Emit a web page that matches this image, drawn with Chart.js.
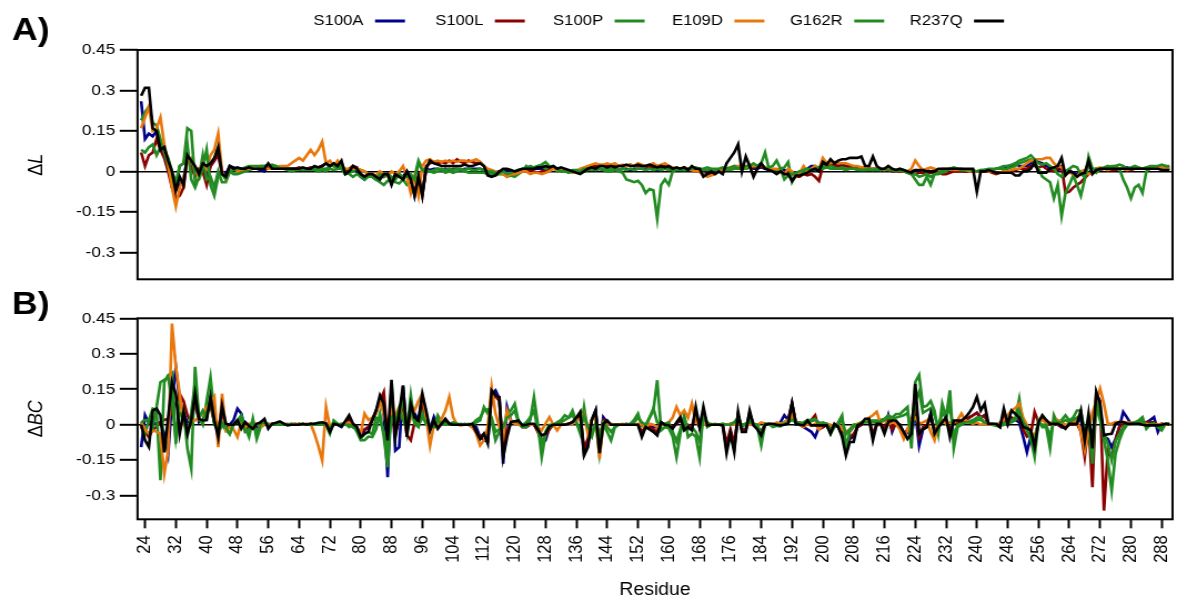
<!DOCTYPE html>
<html><head><meta charset="utf-8">
<script src="https://cdn.jsdelivr.net/npm/chart.js@4.4.0/dist/chart.umd.min.js"></script>
<style>
html,body{margin:0;padding:0;background:#fff;width:1177px;height:605px;overflow:hidden;}
.wrap{position:absolute;left:0;transform-origin:0 0;}
</style></head><body>
<div class="wrap" id="wa" style="top:0px"><canvas id="ca" width="1060" height="284"></canvas></div>
<div class="wrap" id="wb" style="top:284px"><canvas id="cb" width="1060" height="321"></canvas></div>
<script>
// ---------------- DATA ----------------
const firstResidue = 23, lastResidue = 290;
const residues = [];
for (let r = firstResidue; r <= lastResidue; r++) residues.push(r);

const seriesNames  = ['S100A','S100L','S100P','E109D','G162R','R237Q'];
const seriesColors = ['#00008b','#8b0000','#228b22','#e8780c','#228b22','#000000'];

const xTickValues = [24,32,40,48,56,64,72,80,88,96,104,112,120,128,136,144,152,160,168,176,184,192,200,208,216,224,232,240,248,256,264,272,280,288];
const yTickValues = [-0.3,-0.15,0,0.15,0.3,0.45];
const yTickLabels = ['-0.3','-0.15','0','0.15','0.3','0.45'];

// Panel A : Delta L   (residues 23..290)
const dL_S100A = [
.26,.12,.14,.13,.15,.1,.06,.02,-.02,-.07,
-.05,-.03,.05,.03,0,-.01,.02,-.02,.02,.04,
.07,0,-.01,.02,.015,.01,.01,.01,.01,.01,
.01,.005,0,.02,.01,.01,.01,.01,.01,.01,
.01,.01,.01,.01,.01,.01,.015,.02,.03,.02,
.025,.02,.03,-.01,-.005,.01,0,-.02,-.03,-.01,
-.02,-.03,-.01,-.02,-.01,-.04,-.01,-.02,-.02,0,
-.02,-.09,-.02,-.08,.01,.005,.01,.01,.005,.01,
.005,.01,.01,.005,.01,.01,.01,.01,.01,.005,
-.005,-.01,-.005,0,0,.005,0,0,.005,.005,
.005,.005,.01,.01,.01,.01,.01,.015,.01,.005,
.005,0,0,0,-.005,0,.005,.01,.005,.01,
.005,.01,.005,.01,.005,.01,.01,.005,.01,.01,
.01,.01,.015,.01,.005,.01,.01,.01,.005,.01,
.005,.01,.005,.01,.005,.005,-.01,-.005,-.005,0,
0,.005,.005,.01,.01,.01,.015,.01,.015,.01,
.01,.015,.01,.008,.005,.005,.01,.005,0,-.01,-.005,
-.01,0,.01,.02,.02,.01,.03,.02,.025,.02,
.02,.025,.02,.02,.015,.015,.01,.01,.01,.01,
.01,.01,.005,.005,.005,0,.005,0,0,0,
.005,0,0,.005,0,.005,0,.005,.005,.01,
.005,.005,.005,0,0,0,0,0,.005,.005,
.005,.01,.01,.01,.02,.02,.03,.02,.02,.02,
.03,.04,.035,.03,.02,.015,.01,.005,.01,0,
.005,-.005,-.01,0,0,-.005,.005,.01,.01,.01,
.01,.01,.01,.01,.01,.015,.01,.01,.01,.01,
.01,.015,.01,.015,.01,.01,.01];
const dL_S100L = [
.07,.02,.06,.07,.12,.08,.05,0,-.06,-.1,
-.09,-.06,.05,.02,-.02,.01,0,-.05,.02,.04,
.06,-.01,-.02,.01,.01,.01,.01,.005,.01,.01,
.01,.01,.01,.01,.015,.01,.01,.01,.01,.01,
.01,.015,.01,.01,.015,.01,.015,.02,.03,.02,
.03,.025,.03,0,.01,.02,.015,-.01,-.02,-.01,
-.01,-.02,-.02,-.01,-.01,-.03,-.02,-.01,-.03,-.01,
-.03,-.08,-.02,-.09,.02,.03,.035,.03,.035,.03,
.04,.03,.045,.035,.03,.04,.035,.03,.035,.02,
.005,0,-.005,0,-.01,-.015,-.005,0,0,.005,
0,.005,0,-.005,0,.005,.01,.015,.01,.005,
.005,0,0,0,.005,.01,.015,.02,.02,.02,
.02,.025,.02,.02,.02,.02,.02,.025,.02,.02,
.02,.02,.015,.015,.02,.015,.02,.015,.01,.01,
.01,.01,.01,.005,0,0,-.015,-.01,-.01,-.005,
0,.01,.01,.01,.015,.015,.02,.015,.02,.015,
.015,.02,.01,.008,.005,.005,.005,-.01,-.005,-.005,-.02,
-.02,-.01,-.015,-.01,-.02,-.035,.02,.02,.025,.025,
.02,.02,.02,.015,.015,.01,.01,.01,.01,.01,
.005,.005,.005,.005,0,0,0,0,-.005,-.01,
-.01,-.005,-.005,-.01,-.005,-.005,0,-.01,-.01,-.005,
0,0,0,0,0,0,0,0,0,0,
-.005,-.01,-.005,0,0,0,.005,.01,.01,.01,
.02,.02,.015,.02,.01,.005,0,.01,.02,-.08,
-.075,-.06,-.05,-.04,-.025,-.01,0,.005,.005,.01,
.01,.005,.005,.01,.01,.005,.005,.01,.01,.01,
.01,.01,.01,.01,.01,.01,.01];
const dL_S100P = [
.19,.22,.24,.18,.17,.12,.07,.02,-.04,-.06,
.02,.03,.1,-.03,-.06,-.02,.06,-.03,-.02,-.06,
0,-.04,-.04,0,-.01,-.01,-.005,0,.005,.01,
.015,.02,.02,.02,.025,.02,.015,.01,.005,0,
.005,.005,.01,.005,.01,.005,0,.005,0,.01,
.005,.01,.01,-.01,-.005,0,.01,.005,0,-.01,
-.02,-.03,-.04,-.05,-.035,-.03,-.04,-.045,-.03,-.05,
-.04,-.02,.04,.01,.005,0,-.005,0,.005,-.005,
0,-.005,0,.005,0,-.005,-.005,-.005,-.005,-.005,
-.01,-.01,-.015,-.01,-.01,-.02,-.015,-.02,-.01,0,
.02,.01,.015,.02,.025,.035,.02,.015,0,.005,
.005,0,.005,.005,.005,0,.005,.01,.005,.01,
.005,0,0,.005,0,-.005,-.03,-.035,-.04,-.035,
-.05,-.08,-.065,-.07,-.175,-.05,-.03,-.05,0,.005,
.005,.005,.005,.005,.005,.005,.005,.005,.005,.005,
.005,.005,.005,.005,.01,.01,.01,.01,.015,.02,
.02,.03,.07,.01,.005,.005,.01,.015,.035,-.04,-.015,
0,-.005,.005,.01,.005,.01,.01,.015,.01,.01,
.01,.01,.005,.01,.01,.01,.005,.005,.005,.005,
.005,.005,.01,.01,.005,.005,.005,.005,0,-.01,
-.03,-.05,-.05,-.02,-.05,-.01,-.01,-.005,0,.01,
.015,.01,.01,.005,.005,0,0,.005,.005,.005,
.005,.01,.01,.01,.01,.015,.02,.03,.035,.04,
.045,.03,.01,-.02,-.03,-.04,-.1,-.05,-.165,-.08,
-.05,-.015,-.05,-.09,-.03,.055,.01,-.005,.01,.01,
.015,.02,.02,.01,-.03,-.06,-.1,-.06,-.05,-.08,
0,.01,.015,.01,.01,.02,.015];
const dL_E109D = [
.16,.2,.24,.15,.16,.2,.1,.03,-.06,-.13,
-.06,-.03,.04,.05,0,-.02,.03,.01,.06,.08,
.14,0,-.03,.01,.01,0,.005,.01,.01,.015,
.01,.01,.015,.01,.01,.01,.02,.02,.02,.03,
.04,.05,.04,.06,.08,.06,.08,.11,.03,.04,
.02,.04,.02,.01,.01,.01,.01,.005,0,-.01,
-.01,-.015,0,-.01,-.02,0,-.01,0,.02,-.02,
-.08,-.02,-.09,.02,.04,.045,.035,.04,.035,.04,
.035,.04,.035,.04,.04,.035,.04,.045,.035,.02,
.01,.005,0,-.005,-.01,-.02,-.01,-.01,-.005,0,
0,-.01,-.005,-.005,-.01,-.005,0,.01,.005,.005,
0,0,-.005,0,.01,.015,.02,.025,.03,.025,
.025,.03,.025,.03,.02,.025,.02,.025,.02,.03,
.025,.02,.025,.03,.02,.025,.03,.02,.015,.01,
.01,.015,.01,.005,0,0,-.01,-.02,-.015,-.01,
0,.005,.01,.015,.02,.02,.02,.015,.025,.02,
.02,.025,.015,.012,.01,.01,.005,-.01,.01,0,-.02,
-.005,.02,0,.01,.02,.01,.05,.03,.03,.035,
.03,.03,.03,.025,.02,.02,.015,.015,.015,.01,
.01,.01,.005,.01,.01,0,.005,0,0,.01,
.04,.02,.005,.01,.015,.01,.005,.01,.01,.01,
.005,.005,.005,.005,0,0,0,0,.005,0,
0,-.005,-.005,0,0,.005,.01,.01,.02,.03,
.04,.045,.045,.045,.05,.05,.03,.02,.015,0,
-.005,-.01,-.02,0,.005,-.01,-.005,.01,.015,.01,
.005,.01,.01,.01,.01,.005,.01,.015,.01,.01,
.015,.01,.01,.015,.015,.01,.01];
const dL_G162R = [
.08,.07,.09,.1,.06,.09,.08,.05,0,-.04,
.02,.03,.16,.15,-.04,-.03,.01,.08,-.05,-.09,
-.02,-.01,-.03,0,.005,.01,.01,.015,.02,.02,
.02,.02,.02,.025,.02,.02,.01,.01,.01,.01,
.005,.01,.005,.01,.005,.01,.005,.01,.01,.02,
.02,.01,.02,0,-.01,-.02,-.01,-.02,-.03,-.02,
-.02,-.03,-.01,-.02,-.01,-.02,-.03,-.01,-.02,-.02,
-.01,-.03,.03,.005,0,0,.005,.01,.01,.005,
.01,.005,.01,.01,.005,.01,.005,.005,.01,.005,
0,0,-.005,-.005,0,-.01,-.005,0,.005,.01,
.01,.02,.015,.02,.02,.01,.015,.02,.01,0,
0,-.005,0,.005,0,.01,.01,.005,.01,.01,
.01,.005,.01,.01,.005,.01,.005,.01,.005,.01,
.01,.005,.01,.005,.01,.005,.01,.005,.01,.01,
.01,.005,.01,.01,.015,.01,.01,.015,.01,.01,
.01,.015,.01,.015,.02,.01,.015,.02,.02,.03,
.02,.03,.01,.015,.02,.04,.01,-.03,-.015,-.01,-.005,
0,.005,.01,.005,.01,.015,.02,.015,.02,.015,
.01,.015,.01,.01,.01,.005,.005,.005,.01,.005,
.01,.005,.01,.005,.005,0,.005,0,-.005,-.01,
-.01,-.02,-.015,-.01,-.02,-.01,-.005,0,.005,.01,
.01,.01,.005,.005,.005,.005,0,.005,.005,.01,
.01,.01,.015,.02,.02,.025,.03,.04,.045,.05,
.06,.045,.03,.025,.03,.02,.01,-.01,-.02,0,
.01,.02,.015,-.01,-.02,.02,.01,.01,.01,.015,
.02,.015,.02,.025,.02,.01,.015,.02,.015,.01,
.015,.02,.02,.02,.025,.02,.02];
const dL_R237Q = [
.28,.31,.31,.16,.15,.08,.09,.04,0,-.07,
-.02,-.05,.06,.04,.02,-.01,.03,.02,.03,.05,
.09,-.01,-.02,.02,.01,.015,.01,.01,.015,.01,
.01,.01,.01,.03,.01,.01,.01,.01,.01,.01,
.01,.01,.015,.01,.01,.02,.015,.02,.03,.02,
.03,.02,.04,-.01,0,.02,.01,-.01,-.02,-.01,
-.01,-.02,-.03,-.01,-.01,-.05,-.01,-.02,-.03,0,
-.03,-.09,-.02,-.09,.01,.04,.03,.025,.02,.02,
.02,.02,.02,.02,.025,.02,.02,.025,.03,.02,
-.015,-.02,-.015,0,.01,.01,.005,0,.005,.01,
.01,.01,.01,.015,.015,.02,.015,.02,.01,.015,
.01,.005,0,-.005,-.01,0,.01,.015,.01,.02,
.02,.015,.02,.015,.02,.02,.025,.02,.02,.025,
.02,.02,.025,.02,.015,.02,.015,.02,.01,.015,
.01,.015,.005,.02,.01,.01,-.02,-.01,0,-.01,
0,-.01,.03,.05,.07,.1,0,.055,.02,-.02,
.01,.03,.01,.005,0,-.01,0,-.01,-.01,-.035,-.015,
-.015,-.01,-.005,.005,.01,0,.035,.025,.045,.03,
.04,.045,.045,.05,.05,.05,.055,.02,.02,.055,
.02,.01,.01,.02,.01,.005,.01,.005,0,-.005,
.005,.005,.005,0,0,0,.01,.01,.01,.01,
.01,.01,.01,.01,.01,.01,-.075,0,0,.005,
0,-.005,-.005,-.005,-.005,-.005,-.015,-.015,0,0,
.01,.035,-.005,-.005,-.005,.01,.015,.02,.05,-.015,
0,-.005,-.02,-.01,-.005,.04,-.01,.005,.01,.01,
.01,.01,.01,.01,.01,.01,.01,.01,.01,.01,
.01,.01,.01,.01,.005,.005,.005];

// Panel B : Delta BC   (residues 23..290)
const dBC_S100A = [
-.095,.04,.004,.01,.004,.01,-.038,-.123,.1,.244,
.1,.047,.01,.01,.117,.01,.02,.06,.1,.01,
-.03,.075,-.017,0,.02,.068,.047,-.024,-.01,.004,
-.01,.01,0,.004,0,.004,.004,0,0,.004,
0,.004,0,0,.004,0,.004,.004,.004,-.02,
.004,0,-.01,.01,.03,0,-.01,-.052,-.024,-.01,
.02,.05,.11,.05,-.222,.17,-.109,-.095,.16,-.038,
.089,.047,.018,.117,.04,-.02,.032,-.01,.004,.018,
.004,0,0,0,0,0,0,-.01,-.052,-.066,
-.07,.13,.145,.11,-.165,.075,.018,.01,.01,0,
0,0,0,-.02,-.08,-.066,-.01,0,0,.004,
0,.004,.01,.02,.047,-.123,-.08,.02,.06,-.109,
.032,.01,0,0,0,0,.004,0,0,0,
-.038,-.01,-.01,-.01,-.01,.01,0,0,-.01,.004,
.02,-.01,-.01,-.01,.05,-.01,.05,0,0,0,
0,0,-.1,-.03,-.1,.04,-.02,-.02,.05,0,
-.01,-.03,0,0,0,0,.01,.04,.02,.09,0,
0,-.01,-.02,-.03,-.052,-.01,-.01,0,-.02,0,
-.01,-.04,-.1,-.06,-.05,-.01,0,.02,.02,-.04,
0,.004,-.02,.04,-.03,.01,0,-.04,-.03,-.05,
.06,-.088,-.02,-.01,.047,-.03,-.01,.01,.02,-.03,
.01,.01,.01,.02,.03,.04,.05,.03,.04,0,
0,0,-.01,.03,0,.03,.02,.01,-.05,-.116,
-.05,-.06,.01,.03,.01,0,0,0,-.01,-.01,
0,0,.004,.03,-.08,.02,-.07,.1,.06,-.05,
-.06,-.095,-.06,-.01,.054,.03,.004,.004,.004,.01,
.01,.02,.032,-.03,.004,0,0];
const dBC_S100L = [
-.01,-.03,-.052,-.02,-.01,.01,.02,.025,.06,.09,
.13,.1,.04,.01,.1,.02,.01,.05,.08,.01,
-.03,.06,-.01,-.01,0,.02,.03,-.01,-.01,0,
0,.004,0,0,.004,0,0,.004,0,0,
.004,0,0,.004,0,0,.004,0,0,-.01,
.004,0,0,.004,.02,-.01,-.02,-.03,-.02,-.01,
.02,.06,.1,.138,-.066,.06,-.04,.03,.08,-.045,
-.066,.01,.02,.08,.03,-.02,.004,0,0,.01,
0,0,.004,0,0,0,-.01,-.03,-.05,-.04,
-.05,.11,.12,.1,-.1,-.03,.01,.01,.004,-.01,
-.01,0,0,-.03,-.073,-.05,-.02,0,0,.004,
0,.004,.01,.02,.04,-.1,-.06,.02,.05,-.08,
.02,.01,0,0,0,0,0,0,0,0,
-.03,-.01,-.01,-.02,-.03,.01,0,0,-.01,.004,
.02,-.01,0,-.01,.04,-.01,.04,0,0,0,
0,0,-.08,-.02,-.08,.04,-.02,-.02,.04,0,
-.01,-.03,0,0,0,0,0,.01,.02,.09,.01,
0,.004,.01,.02,.04,-.02,-.01,0,-.02,0,
-.01,-.03,-.09,-.05,-.04,-.01,0,.02,.02,-.04,
0,.004,-.02,.03,-.02,.01,0,-.04,-.02,.01,
.1,-.05,-.01,0,.03,-.02,-.01,.01,.02,-.02,
.01,.01,.01,.02,.03,.04,.05,.03,.04,0,
0,0,-.01,.03,0,.03,.02,.032,-.02,-.05,
-.04,.054,.01,.03,.01,0,0,0,-.01,-.01,
0,0,.004,-.03,-.137,0,-.264,.131,.1,-.363,
-.109,-.137,-.066,-.01,.004,.004,.004,.004,.004,.01,
.01,.01,.01,0,.004,0,0];
const dBC_S100P = [
.011,-.038,.02,.068,.06,-.235,.18,.21,.22,-.08,
.1,.06,-.1,-.185,.245,.03,0,.1,.2,.047,
-.038,0,-.024,-.038,0,.018,.04,-.01,-.052,.025,
-.06,-.01,0,0,.004,0,0,.004,0,0,
0,.004,0,0,.004,0,0,.004,0,-.038,
.018,.004,0,.004,-.01,0,-.03,-.066,-.066,-.05,
-.052,-.02,.047,-.05,-.18,.06,-.01,.05,.1,-.024,
.124,.004,-.01,.047,0,-.01,-.01,.04,.01,.004,
0,.004,0,.004,0,.004,0,.01,.018,.075,
.047,.02,-.066,-.03,-.024,.047,.06,.089,.011,-.01,
-.01,.018,.117,0,-.137,-.038,-.01,-.005,.004,.01,
.02,.03,.06,.01,-.038,.075,-.03,-.052,.01,-.123,
0,-.03,-.066,-.01,0,0,0,.004,.02,.047,
-.005,-.01,.03,.06,.188,-.024,-.01,-.015,-.05,-.137,
-.038,.04,-.052,-.038,-.05,-.137,.06,-.01,0,.004,
0,.004,0,.004,.01,.032,-.01,.004,.018,.004,
-.01,-.088,.004,.004,-.01,-.005,-.007,.01,.02,.032,.01,
.004,.01,.02,.02,.025,.004,.01,.004,-.038,-.01,
.01,.04,-.095,-.03,-.01,-.005,.01,.018,.018,.018,
.018,.02,.025,.04,.03,.045,.045,.06,.075,-.1,
.18,.21,.075,.08,.1,.06,-.038,.089,.032,.145,
-.1,-.01,0,.01,.015,.02,.03,.032,.004,.004,
0,-.005,-.005,0,.01,.018,.03,.11,0,-.024,
-.06,-.137,.018,-.01,-.01,-.1,.04,.004,.02,.04,
.018,.03,.06,.06,-.038,-.01,-.165,.117,.03,-.066,
-.15,-.278,-.123,-.066,-.024,0,.004,.01,.018,.032,
-.017,0,.004,-.01,-.024,.004,.004];
const dBC_E109D = [
.011,-.02,-.038,-.024,-.03,-.038,-.208,-.109,.428,.244,
.131,.004,-.024,.018,.018,.03,.047,.075,.09,.117,
-.095,.131,-.024,-.01,-.02,-.052,.01,-.01,.004,-.01,
.004,-.01,.004,0,.004,.004,.01,.004,0,.004,
.004,0,.004,0,.004,-.038,-.09,-.151,.075,-.01,
.004,0,.004,.004,.01,.004,-.01,-.038,.047,.02,
.03,.047,.1,.047,-.03,.06,.04,.075,.03,-.024,
.03,.06,.1,.131,.03,-.088,0,.004,.025,.06,
.117,.032,0,-.003,0,0,-.01,-.038,-.088,-.066,
-.01,.16,.047,-.01,-.052,.06,.018,.004,0,0,
0,0,0,-.01,-.024,.005,.032,0,-.024,0,
0,.004,.004,.018,.025,.047,-.038,.02,.04,-.144,
.004,0,.004,0,0,.004,0,0,0,.004,
0,-.01,.004,0,-.01,0,.004,.01,.03,.075,
.04,.06,.03,.089,.01,0,.004,0,.004,0,
0,.004,0,.004,0,.004,0,.004,0,.004,
0,.01,.004,.005,0,.01,.004,.01,.02,.04,.004,
0,-.01,.004,-.005,.004,-.02,0,.004,0,-.01,
.004,-.02,-.03,-.02,0,.004,.01,.018,.03,.04,
.055,.004,.02,0,.01,.004,-.02,-.06,-.02,.02,
.03,.004,.01,.018,-.03,-.066,.01,.02,.004,.01,
.01,.02,.047,.02,.01,.004,.01,0,.004,0,
.004,0,.01,.02,.04,.06,.07,.089,.03,0,
-.03,-.05,.01,.02,.004,.01,.004,.02,.01,0,
.004,.01,.02,-.03,-.109,-.02,.05,.1,.153,.089,
.004,.004,.011,.011,.011,.01,.008,.01,.004,.004,
.004,0,.004,0,.004,0,.004];
const dBC_G162R = [
.01,.02,.02,-.01,.075,.18,.19,.2,.1,-.06,
.05,.03,-.05,.05,.18,.03,.06,.03,.12,0,
-.02,.01,-.01,-.04,.004,.01,.02,-.03,-.02,.02,
-.04,.004,.01,0,0,.004,0,0,.004,0,
0,0,.004,0,0,.004,0,0,.004,-.02,
.01,0,.004,0,0,-.01,-.02,-.06,-.04,-.03,
-.04,.03,.02,-.03,-.1,.03,.01,.07,.02,-.02,
.06,.01,0,.03,.01,0,-.01,.02,0,0,
.004,.01,.004,0,.004,0,.004,.02,.03,.06,
.065,.03,-.03,-.02,-.01,.03,.04,.06,.01,0,
.01,.03,.06,-.02,-.08,-.03,0,0,.01,.02,
.04,.03,.04,.01,-.02,.04,-.01,-.03,0,-.05,
.01,-.01,-.03,-.01,0,0,0,0,.01,.03,
.01,0,.03,.07,.01,0,.004,.01,-.03,-.07,
-.02,.03,-.02,-.01,-.03,-.07,.03,.01,0,0,
0,.004,0,0,.01,.02,0,.004,.01,.004,
0,-.04,.004,0,0,0,0,.004,.01,.02,.01,
.01,.004,.01,.015,.02,.01,.004,.004,-.02,-.01,
0,.02,-.04,-.02,0,0,.01,.01,.01,.01,
.01,.015,.02,.03,.025,.03,.035,.04,.05,-.04,
.1,.14,.05,.06,.07,.04,-.01,.05,.03,.08,
-.05,0,.004,.01,.01,.01,.02,.02,.01,.004,
.004,0,0,.004,.01,.01,.02,.06,.01,-.01,
-.03,-.07,.01,0,0,-.05,.02,.01,.01,.02,
.01,.02,.03,.04,-.02,0,-.08,.07,.02,-.04,
-.08,-.15,-.07,-.04,-.01,0,.004,.01,.01,.02,
-.01,.004,.004,-.005,-.01,.004,.004];
const dBC_R237Q = [
0,-.066,-.094,.06,.068,.04,-.117,.03,.18,.13,
-.038,.054,-.038,.018,.13,.025,.018,.02,.117,.018,
-.052,.08,.004,0,0,.018,-.017,.011,-.005,-.017,
.004,.01,.025,-.017,.004,.008,.014,.005,-.003,0,
0,0,.004,0,.004,.004,.008,.01,.005,-.031,
.004,0,-.007,.015,.04,.004,-.01,-.052,-.038,-.03,
.02,.06,.124,.09,-.066,.19,-.052,.05,.166,-.052,
.089,.03,.018,.13,.06,-.024,.018,-.017,.004,.025,
.004,0,0,0,0,0,.004,-.03,-.06,-.038,
-.08,.145,.124,.117,-.137,-.052,.011,.015,.018,-.003,
0,.004,.004,-.02,-.045,-.038,-.007,0,0,0,
0,.004,.011,.03,.054,-.13,-.095,.02,.06,-.12,
.004,.018,0,0,0,0,0,0,0,0,
-.052,-.01,-.02,-.03,-.045,.011,0,-.003,-.017,.01,
.032,-.024,-.01,-.024,.075,-.01,.075,-.003,0,0,
0,-.003,-.12,-.038,-.116,.054,-.031,-.031,.06,-.003,
-.02,-.045,0,.004,.004,0,-.003,0,.004,.09,.004,
0,-.003,.018,-.003,-.003,-.003,-.003,-.003,-.038,.004,
-.01,-.05,-.13,-.073,-.073,-.003,.004,.025,.025,-.066,
.004,.004,-.038,.011,.018,.018,-.003,-.03,-.06,-.038,
.173,-.038,-.02,-.01,.046,-.038,-.01,.01,.032,-.052,
.018,.018,.018,.03,.05,.075,.117,.06,.089,.004,
.004,.004,-.01,.068,.004,.06,.046,.03,-.01,-.015,
-.024,-.095,.011,.04,.02,.004,.004,.004,-.005,-.017,
.004,.004,.004,.06,-.066,.046,-.1,.139,.089,-.045,
-.04,-.038,.004,.011,.011,.004,.004,.004,.004,0,
-.003,-.003,-.003,-.003,0,.004,.002];

const panelA = [dL_S100A, dL_S100L, dL_S100P, dL_E109D, dL_G162R, dL_R237Q];
const panelB = [dBC_S100A, dBC_S100L, dBC_S100P, dBC_E109D, dBC_G162R, dBC_R237Q];

// ---------------- LAYOUT ----------------
const CW = 1060, STRETCH = 1177 / CW;
document.getElementById('wa').style.transform = 'scaleX(' + STRETCH + ')';
document.getElementById('wb').style.transform = 'scaleX(' + STRETCH + ')';
const C = px => px / STRETCH;            // page x -> canvas x
const FAMILY = '"Liberation Sans", Arial, Helvetica, sans-serif';
Chart.defaults.font.family = FAMILY;
Chart.defaults.color = '#000';

const plotLeft = C(137.5), plotRight = C(1172.5);
const xMin = 22.05, xMax = 290.8;
const yMin = -0.4, yMax = 0.45;

function makeDatasets(arrs) {
  return arrs.map((arr, i) => ({
    label: seriesNames[i],
    data: residues.map((r, k) => ({x: r, y: arr[k]})),
    borderColor: seriesColors[i],
    backgroundColor: seriesColors[i],
    borderWidth: 2.6,
    pointRadius: 0,
    tension: 0,
    fill: false,
    order: seriesNames.length - 1 - i
  }));
}

function yScale() {
  return {
    type: 'linear', min: yMin, max: yMax,
    afterBuildTicks(s) { s.ticks = yTickValues.map(v => ({value: v})); },
    afterFit(s) { s.width = plotLeft; s.paddingTop = 0; s.paddingBottom = 0; },
    ticks: { autoSkip: false, padding: 4, color: '#000', font: {size: 15.5},
             callback: (v, i) => yTickLabels[i] },
    grid: { drawOnChartArea: true, drawTicks: true, tickLength: 16, tickWidth: 2, tickColor: '#000',
            color: c => (c.tick && c.tick.value === 0) ? '#000' : 'rgba(0,0,0,0)',
            lineWidth: 1.6 },
    border: { display: false }
  };
}

function decor(opts) {
  return {
    id: 'decor' + opts.tag,
    afterDraw(chart) {
      const ctx = chart.ctx, a = chart.chartArea;
      ctx.save();
      ctx.strokeStyle = '#000'; ctx.lineWidth = 2;
      ctx.strokeRect(a.left, a.top, a.right - a.left, a.bottom - a.top);
      // panel letter
      ctx.fillStyle = '#000';
      ctx.font = 'bold 32px ' + FAMILY;
      ctx.textAlign = 'left'; ctx.textBaseline = 'alphabetic';
      ctx.fillText(opts.panel, C(12), opts.panelBaseline);
      // y-axis title: Delta upright + italic symbol
      ctx.save();
      ctx.translate(C(37), (a.top + a.bottom) / 2);
      ctx.rotate(-Math.PI / 2);
      const f1 = '18px ' + FAMILY, f2 = 'italic 18px ' + FAMILY;
      ctx.font = f1; const w1 = ctx.measureText('Δ').width;
      ctx.font = f2; const w2 = ctx.measureText(opts.yTitle).width;
      const x0 = -(w1 + w2) / 2;
      ctx.textBaseline = 'middle';
      ctx.font = f1; ctx.fillText('Δ', x0, 0);
      ctx.font = f2; ctx.fillText(opts.yTitle, x0 + w1, 0);
      ctx.restore();
      // legend
      if (opts.legend) {
        ctx.font = '15px ' + FAMILY;
        ctx.textBaseline = 'middle'; ctx.textAlign = 'right';
        const ly = 21;
        seriesNames.forEach((name, i) => {
          const ls = C(375 + i * 119.8);
          ctx.fillStyle = '#000';
          ctx.fillText(name, ls - C(11.5), ly);
          ctx.strokeStyle = seriesColors[i]; ctx.lineWidth = 3;
          ctx.beginPath(); ctx.moveTo(ls, ly); ctx.lineTo(ls + C(30), ly); ctx.stroke();
        });
      }
      ctx.restore();
    }
  };
}

// Panel A
new Chart(document.getElementById('ca'), {
  type: 'line',
  data: { datasets: makeDatasets(panelA) },
  options: {
    responsive: false, animation: false, events: [],
    layout: { padding: { left: 0, right: CW - plotRight, top: 50, bottom: 284 - 279.3 } },
    plugins: { legend: {display: false}, tooltip: {enabled: false} },
    scales: {
      x: { type: 'linear', min: xMin, max: xMax, display: false },
      y: yScale()
    }
  },
  plugins: [decor({tag: 'A', panel: 'A)', panelBaseline: 40, yTitle: 'L', legend: true})]
});

// Panel B
const bTop = 284;
new Chart(document.getElementById('cb'), {
  type: 'line',
  data: { datasets: makeDatasets(panelB) },
  options: {
    responsive: false, animation: false, events: [],
    layout: { padding: { left: 0, right: CW - plotRight, top: 318.3 - bTop, bottom: 0 } },
    plugins: { legend: {display: false}, tooltip: {enabled: false} },
    scales: {
      x: {
        type: 'linear', min: xMin, max: xMax,
        afterBuildTicks(s) { s.ticks = xTickValues.map(v => ({value: v})); },
        afterFit(s) { s.height = 605 - 519.3; s.paddingLeft = 0; s.paddingRight = 0; },
        ticks: { autoSkip: false, maxRotation: 90, minRotation: 90, padding: 7, color: '#000',
                 font: {size: 16.5}, callback: (v, i) => String(xTickValues[i]) },
        grid: { drawOnChartArea: false, drawTicks: true, tickLength: 9, tickWidth: 2, tickColor: '#000' },
        border: { display: false },
        title: { display: true, text: 'Residue', color: '#000', font: {size: 17.5},
                 padding: {top: 0, bottom: 4.5} }
      },
      y: yScale()
    }
  },
  plugins: [decor({tag: 'B', panel: 'B)', panelBaseline: 314 - bTop, yTitle: 'BC', legend: false})]
});
</script>
</body></html>
